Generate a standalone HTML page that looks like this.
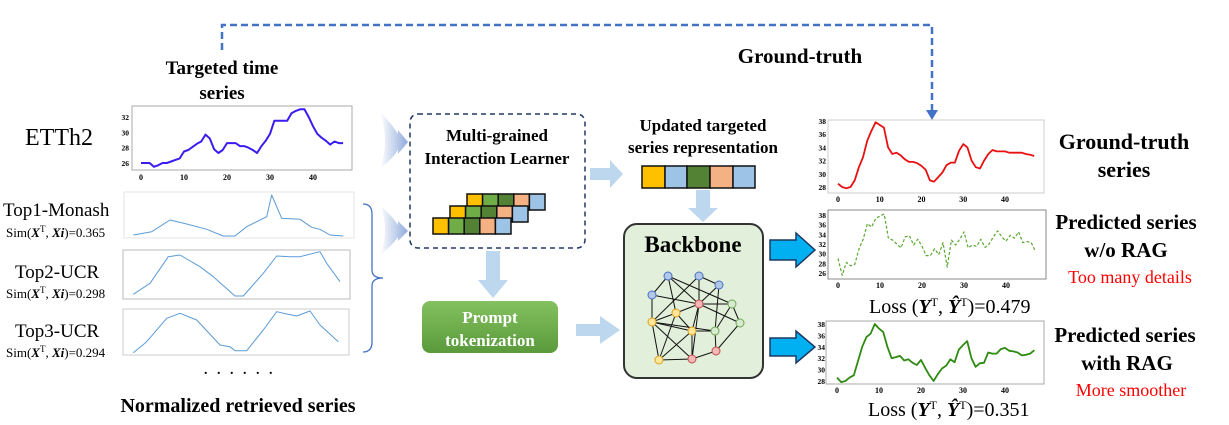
<!DOCTYPE html>
<html><head><meta charset="utf-8"><style>
html,body{margin:0;padding:0;background:#fff;}
svg{display:block;}
text{font-family:"Liberation Serif",serif;}
.b{font-weight:bold;}
</style></head><body>
<svg id="s" width="1229" height="425" viewBox="0 0 1229 425" xmlns="http://www.w3.org/2000/svg">
<defs>
<linearGradient id="fan" x1="0" x2="1" y1="0" y2="0"><stop offset="0" stop-color="#fff"/><stop offset="1" stop-color="#8faadc"/></linearGradient>
<linearGradient id="pg" x1="0" x2="0" y1="0" y2="1"><stop offset="0" stop-color="#84c060"/><stop offset="1" stop-color="#5a9a3a"/></linearGradient>
</defs>
<polyline points="222,50 222,25 932,25 932,112" fill="none" stroke="#4472c4" stroke-width="2.5" stroke-dasharray="7,4"/>
<polygon points="926,110 938,110 932,120" fill="#4472c4"/>
<text x="222" y="74" font-size="19" class="b" text-anchor="middle">Targeted time</text>
<text x="222" y="99" font-size="19" class="b" text-anchor="middle">series</text>
<text x="800" y="63" font-size="21" class="b" text-anchor="middle">Ground-truth</text>

<text x="25" y="145" font-size="24">ETTh2</text>
<text x="3" y="216" font-size="19">Top1-Monash</text>
<text x="6" y="237" font-size="13">Sim(<tspan font-style="italic" font-weight="bold">X</tspan><tspan font-size="9" dy="-5">T</tspan><tspan dy="5">, </tspan><tspan font-style="italic" font-weight="bold">Xi</tspan>)=0.365</text>
<text x="15" y="278" font-size="19">Top2-UCR</text>
<text x="6" y="298" font-size="13">Sim(<tspan font-style="italic" font-weight="bold">X</tspan><tspan font-size="9" dy="-5">T</tspan><tspan dy="5">, </tspan><tspan font-style="italic" font-weight="bold">Xi</tspan>)=0.298</text>
<text x="15" y="337" font-size="19">Top3-UCR</text>
<text x="6" y="357" font-size="13">Sim(<tspan font-style="italic" font-weight="bold">X</tspan><tspan font-size="9" dy="-5">T</tspan><tspan dy="5">, </tspan><tspan font-style="italic" font-weight="bold">Xi</tspan>)=0.294</text>
<text x="204" y="374" font-size="14" class="b" letter-spacing="3">. . . . . .</text>
<text x="238" y="412" font-size="20" class="b" text-anchor="middle">Normalized retrieved series</text>

<rect x="132" y="106" width="220" height="64" fill="none" stroke="#aaa"/>
<rect x="124" y="192" width="230" height="46" fill="none" stroke="#e4e4e4"/>
<rect x="123" y="250" width="227" height="49" fill="none" stroke="#bbb"/>
<rect x="123" y="309" width="226" height="46" fill="none" stroke="#ccc"/>
<g id="charts"></g>

<path d="M363,204 Q372,204 372,214 L372,270 Q372,278 383,278 Q372,278 372,286 L372,342 Q372,352 363,352" fill="none" stroke="#4472c4" stroke-width="1.3"/>

<path d="M380,112 Q392,124 398,134 L398,130 L408,142 L398,154 L398,150 Q392,160 380,168 Q390,142 380,112Z" fill="url(#fan)"/>
<path d="M380,205 Q392,216 398,225 L398,221 L408,231 L398,241 L398,237 Q392,246 380,255 Q390,230 380,205Z" fill="url(#fan)"/>

<rect x="410" y="114" width="175" height="134" rx="8" fill="none" stroke="#203864" stroke-width="1.5" stroke-dasharray="5,4"/>
<text x="497" y="141" font-size="17" class="b" text-anchor="middle">Multi-grained</text>
<text x="497" y="164" font-size="17" class="b" text-anchor="middle">Interaction Learner</text>
<g id="tok" stroke="#111" stroke-width="1.5"></g>

<polygon points="590,168 610,168 610,160 623,174 610,188 610,180 590,180" fill="#bdd7ee"/>
<polygon points="696,190 710,190 710,208 718,208 703,222 688,208 696,208" fill="#bdd7ee"/>
<polygon points="486,251 500,251 500,280 508,280 493,298 478,280 486,280" fill="#bdd7ee"/>
<polygon points="576,324 600,324 600,316 620,330 600,344 600,336 576,336" fill="#bdd7ee"/>

<text x="703" y="131" font-size="17" class="b" text-anchor="middle">Updated targeted</text>
<text x="703" y="153" font-size="17" class="b" text-anchor="middle">series representation</text>
<g stroke="#111" stroke-width="1.5">
<rect x="642" y="166" width="23" height="22" fill="#ffc000"/>
<rect x="665" y="166" width="22" height="22" fill="#9dc3e6"/>
<rect x="687" y="166" width="23" height="22" fill="#548235"/>
<rect x="710" y="166" width="23" height="22" fill="#f4b183"/>
<rect x="733" y="166" width="22" height="22" fill="#9dc3e6"/>
</g>

<rect x="422" y="301" width="136" height="52" rx="8" fill="url(#pg)"/>
<text x="490" y="323" font-size="17" class="b" fill="#fff" text-anchor="middle">Prompt</text>
<text x="490" y="346" font-size="17" class="b" fill="#fff" text-anchor="middle">tokenization</text>

<rect x="624" y="224" width="139" height="154" rx="13" fill="#e2efda" stroke="#333" stroke-width="2"/>
<text x="693" y="252" font-size="23" class="b" text-anchor="middle">Backbone</text>
<g id="graph"></g>

<polygon points="770,240 796,240 796,233 815,250 796,267 796,260 770,260" fill="#00b0f0" stroke="#1f3864" stroke-width="1.5"/>
<polygon points="770,338 796,338 796,331 815,347 796,363 796,356 770,356" fill="#00b0f0" stroke="#1f3864" stroke-width="1.5"/>

<rect x="828" y="120" width="216" height="73" fill="none" stroke="#ccc"/>
<rect x="828" y="210" width="218" height="69" fill="none" stroke="#888"/>
<rect x="826" y="321" width="218" height="63" fill="none" stroke="#aaa"/>

<text x="1124" y="149" font-size="22" class="b" text-anchor="middle">Ground-truth</text>
<text x="1124" y="177" font-size="22" class="b" text-anchor="middle">series</text>
<text x="1126" y="229" font-size="21" class="b" text-anchor="middle">Predicted series</text>
<text x="1126" y="257" font-size="21" class="b" text-anchor="middle">w/o RAG</text>
<text x="1130" y="283" font-size="18" fill="#ff0000" text-anchor="middle">Too many details</text>
<text x="1125" y="342" font-size="21" class="b" text-anchor="middle">Predicted series</text>
<text x="1127" y="370" font-size="21" class="b" text-anchor="middle">with RAG</text>
<text x="1131" y="396" font-size="18" fill="#ff0000" text-anchor="middle">More smoother</text>
<text x="869" y="313" font-size="20">Loss (<tspan font-weight="bold" font-style="italic">Y</tspan><tspan font-size="12" dy="-7">T</tspan><tspan dy="7">, </tspan><tspan font-weight="bold" font-style="italic">Ŷ</tspan><tspan font-size="12" dy="-7">T</tspan><tspan dy="7">)=0.479</tspan></text>
<text x="868" y="416" font-size="20">Loss (<tspan font-weight="bold" font-style="italic">Y</tspan><tspan font-size="12" dy="-7">T</tspan><tspan dy="7">, </tspan><tspan font-weight="bold" font-style="italic">Ŷ</tspan><tspan font-size="12" dy="-7">T</tspan><tspan dy="7">)=0.351</tspan></text>
</svg>
<script>
var NS="http://www.w3.org/2000/svg";
function el(p,t,a,txt){var e=document.createElementNS(NS,t);for(var k in a)e.setAttribute(k,a[k]);if(txt!==undefined)e.textContent=txt;p.appendChild(e);return e;}
var C=document.getElementById("charts");
function chart(data,x0,x40,v1,y1,v2,y2,col,w,dash,yt,xlabY){
 var px=(x40-x0)/40,py=(y2-y1)/(v2-v1),pts=[];
 data.forEach(function(v,i){pts.push((x0+i*px).toFixed(1)+","+(y1+(v-v1)*py).toFixed(1));});
 var a={points:pts.join(" "),fill:"none",stroke:col,"stroke-width":w,"stroke-linejoin":"round"};
 if(dash)a["stroke-dasharray"]=dash;
 el(C,"polyline",a);
 [0,10,20,30,40].forEach(function(t){el(C,"text",{x:x0+t*px,y:xlabY,"font-size":8,"font-weight":"bold","text-anchor":"middle"},t);});
 yt.forEach(function(t){el(C,"text",{x:x0-12,y:y1+(t-v1)*py+3,"font-size":7.5,"font-weight":"bold","text-anchor":"end"},t);});
}
chart([26,26,26,25.5,25.7,26,26,26.2,26.4,26.6,27.5,27.7,28.1,28.5,28.8,29.7,29.2,27.8,27.3,27.7,28.6,28.6,28.6,28.2,28.2,28,27.7,27.3,28.2,28.9,29.8,31.5,31.5,31.5,31.5,32.5,32.8,33,33,32,30.8,29.8,29.3,28.9,28.4,28.8,28.6,28.6],
 141,313,26,163,32,117,"#3b1cf0",2,null,[26,28,30,32],180);
chart([28.5,28,27.8,28,29,31,32.5,35,36.5,37.8,37.4,37,34,33,33.2,32.8,32.2,31.8,31.8,31.6,31.2,30.6,29,28.8,29.5,30.2,31.3,31.7,31.7,33.5,34.5,34,32,31,30.8,32,33,33.6,33.4,33.4,33.4,33.2,33.2,33.2,33.2,33,32.9,32.7],
 838,1005,38,121,28,187,"#e81010",1.8,null,[28,30,32,34,36,38],202);
chart([29,25.5,28.2,27.5,27.8,31,33,36.2,35.5,37.3,37.8,38.2,33.2,32.8,32,31.2,33.5,33.7,31.8,33,31.5,29.6,29.6,31,29.8,32.3,27.2,32.8,31.8,33,34.5,31.2,31.8,31.5,33,31.3,32,33.5,34.7,33.5,32.6,33.8,33.2,34.5,32.3,32.5,32.3,30.5],
 838,1006,38,215,26,273,"#5aa832",1.2,"3,2",[26,28,30,32,34,36,38],288);
chart([28.6,27.8,28,28.6,29,31.5,34,35.7,36.3,38,37.2,36.6,34,32,32.2,32.4,31.6,31.8,31.2,30.8,31.7,30.3,29,28,29.2,30.2,30.7,31.8,31.3,33.5,34.3,35,32,30.5,31.1,31.2,33,32.8,32.8,33.6,33.8,33.3,33.2,33,32.5,32.6,32.8,33.4],
 837,1005,38,324,28,381,"#2e8b12",1.8,null,[28,30,32,34,36,38],393);
function smooth(arr){var p=[];for(var i=0;i<arr.length;i+=2)p.push((arr[i]/3).toFixed(1)+","+(arr[i+1]/3).toFixed(1));el(C,"polyline",{points:p.join(" "),fill:"none",stroke:"#5b9bd5","stroke-width":1,"stroke-linejoin":"round"});}
smooth([400,705,455,695,510,660,560,672,620,688,670,708,705,708,740,680,800,650,815,585,845,655,900,658,935,682,960,688,990,705,1030,708]);
smooth([400,883,450,850,505,770,540,765,600,800,640,830,705,888,730,888,790,820,830,768,870,770,900,770,960,755,980,790,1020,845]);
smooth([400,1058,440,1025,500,955,540,940,590,960,660,1035,690,1040,705,1052,740,1052,790,990,830,935,860,942,890,948,930,933,960,975,1015,1025]);
var T=document.getElementById("tok"),cols=["#ffc000","#70ad47","#548235","#f4b183","#9dc3e6"];
[[467,194],[450,206],[433,218]].forEach(function(r){cols.forEach(function(c,i){el(T,"rect",{x:r[0]+i*15.6,y:r[1],width:15.6,height:16,fill:c});});});
var G=document.getElementById("graph");
var N={B1:[668,276,"b"],B2:[699,276,"b"],B3:[719,285,"b"],B4:[652,295,"b"],R1:[699,304,"r"],Y1:[676,313,"y"],G1:[732,304,"g"],G2:[740,323,"g"],Y2:[652,322,"y"],Y3:[692,331,"y"],G3:[715,331,"g"],R2:[716,351,"r"],R3:[692,359,"r"],Y4:[659,360,"y"]};
var E=["B1-B4","B1-Y1","B1-R1","B1-G1","B2-B3","B2-Y2","B2-R1","B3-G3","B3-R1","B4-Y2","B4-R1","R1-G1","R1-Y1","R1-Y3","R1-G2","Y1-Y2","Y1-Y3","Y1-Y4","G1-G3","G1-G2","G2-R2","G3-Y3","G3-R2","Y2-Y3","Y2-Y4","Y2-R3","Y3-R3","Y3-Y4","R3-R2","Y4-R3","R1-R3","Y2-G3"];
E.forEach(function(e){var a=N[e.split("-")[0]],b=N[e.split("-")[1]];el(G,"line",{x1:a[0],y1:a[1],x2:b[0],y2:b[1],stroke:"#111","stroke-width":1});});
var fc={b:["#b4c7e7","#4472c4"],r:["#f4b6b6","#c0504d"],y:["#ffe699","#e0a020"],g:["#d9ead3","#6aa84f"]};
for(var k in N){var n=N[k];el(G,"circle",{cx:n[0],cy:n[1],r:4,fill:fc[n[2]][0],stroke:fc[n[2]][1],"stroke-width":1});}
</script>
</body></html>
